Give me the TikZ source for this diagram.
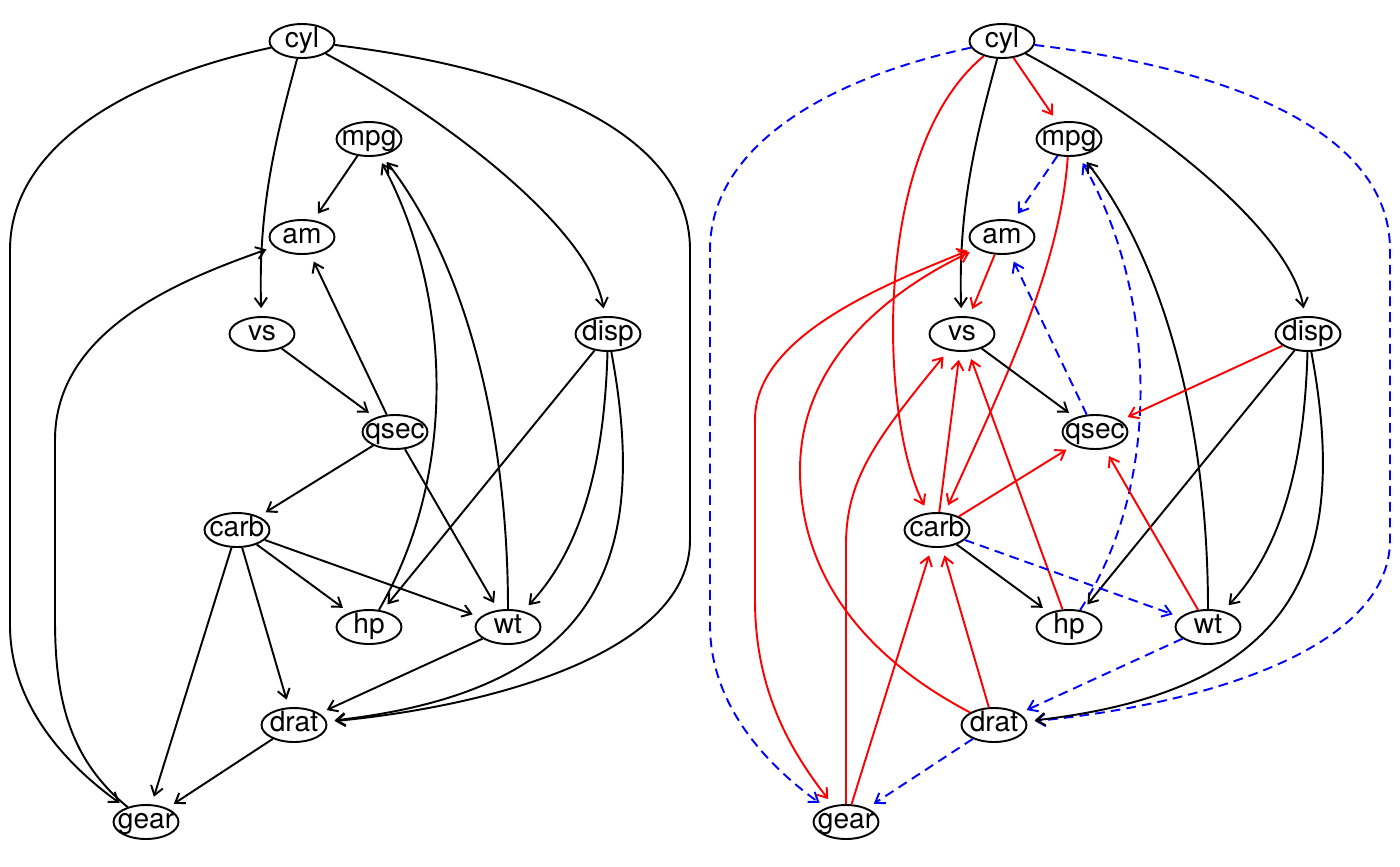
\documentclass[tikz,border=0pt]{standalone}
\usepackage{fontspec}
\setmainfont{TeX Gyre Heros}
\usetikzlibrary{shapes.geometric, arrows.meta}
\definecolor{myred}{RGB}{255,0,0}
\definecolor{myblue}{RGB}{0,0,255}
\tikzset{
  >={Straight Barb[length=5pt,width=7pt]},
  var/.style={ellipse, draw=black, minimum width=1.3cm, minimum height=0.68cm,
    inner xsep=-1.2em, inner ysep=0pt, text height=0.75em, text depth=0.05em,
    font=\fontsize{16}{16}\selectfont, line width=1.1pt},
  arrow/.style={->, line width=1.1pt, shorten >=4.5pt, color=black},
  redarrow/.style={arrow, color=myred},
  bluearrow/.style={arrow, color=myblue, dash pattern=on 5.5pt off 3.5pt},
  bothways/.style={<->, shorten <=4.5pt}
}
\begin{document}
\begin{tikzpicture}[x=0.02cm, y=-0.02cm]
  \useasboundingbox (0,0) rectangle (1400,866);

  % variables, left and right graph
  \foreach \g/\dx in {l/0, r/700} {
    \node[var] (\g cyl)  at (302+\dx,41)  {cyl};
    \node[var] (\g mpg)  at (369+\dx,139) {mpg};
    \node[var] (\g am)   at (302+\dx,237) {am};
    \node[var] (\g vs)   at (262+\dx,334) {vs};
    \node[var] (\g disp) at (608+\dx,334) {disp};
    \node[var] (\g qsec) at (395+\dx,432) {qsec};
    \node[var] (\g carb) at (237+\dx,530) {carb};
    \node[var] (\g hp)   at (369+\dx,627) {hp};
    \node[var] (\g wt)   at (508+\dx,627) {wt};
    \node[var] (\g drat) at (294+\dx,725) {drat};
    \node[var] (\g gear) at (146+\dx,822) {gear};
  }

  % left graph
  \draw[arrow] (lcyl) .. controls (120,80) and (10,150) .. (10,250) -- (10,625) .. controls (10,700) and (60,760) .. (lgear);
  \draw[arrow] (lcyl) .. controls (275,140) and (258,210) .. (lvs);
  \draw[arrow] (lcyl) .. controls (450,120) and (590,230) .. (ldisp);
  \draw[arrow] (lcyl) .. controls (500,65) and (690,120) .. (690,250) -- (690,540) .. controls (690,650) and (500,705) .. (ldrat);
  \draw[arrow] (lmpg) -- (lam);
  \draw[arrow] (lgear) .. controls (70,760) and (55,700) .. (55,620) -- (55,440) .. controls (55,330) and (180,280) .. (lam);
  \draw[arrow] (lhp) .. controls (460,470) and (450,290) .. (lmpg);
  \draw[arrow] (lwt) .. controls (508,440) and (470,270) .. (lmpg);
  \draw[arrow] (lqsec) -- (lam);
  \draw[arrow] (lvs) -- (lqsec);
  \draw[arrow] (lqsec) -- (lcarb);
  \draw[arrow] (lqsec) -- (lwt);
  \draw[arrow] (ldisp) -- (lhp);
  \draw[arrow] (ldisp) .. controls (605,440) and (590,540) .. (lwt);
  \draw[arrow] (ldisp) .. controls (650,560) and (600,690) .. (ldrat);
  \draw[arrow] (lcarb) -- (lhp);
  \draw[arrow] (lcarb) -- (lwt);
  \draw[arrow] (lcarb) -- (lgear);
  \draw[arrow] (lcarb) -- (ldrat);
  \draw[arrow] (lwt) -- (ldrat);
  \draw[arrow] (ldrat) -- (lgear);

  % right graph
  \draw[bluearrow] (rcyl) .. controls (820,80) and (710,150) .. (710,250) -- (710,625) .. controls (710,700) and (760,760) .. (rgear);
  \draw[bluearrow] (rcyl) .. controls (1200,65) and (1390,120) .. (1390,250) -- (1390,540) .. controls (1390,650) and (1200,705) .. (rdrat);
  \draw[redarrow] (rcyl) -- (rmpg);
  \draw[redarrow] (rcyl) .. controls (870,150) and (880,420) .. (rcarb);
  \draw[arrow] (rcyl) .. controls (975,140) and (958,210) .. (rvs);
  \draw[arrow] (rcyl) .. controls (1150,120) and (1290,230) .. (rdisp);
  \draw[bluearrow] (rmpg) -- (ram);
  \draw[redarrow] (rmpg) .. controls (1060,270) and (1000,390) .. (rcarb);
  \draw[bluearrow] (rhp) .. controls (1165,480) and (1155,290) .. (rmpg);
  \draw[arrow] (rwt) .. controls (1208,440) and (1170,270) .. (rmpg);
  \draw[redarrow] (ram) -- (rvs);
  \draw[bluearrow] (rqsec) -- (ram);
  \draw[arrow] (rvs) -- (rqsec);
  \draw[redarrow] (rdisp) -- (rqsec);
  \draw[arrow] (rdisp) -- (rhp);
  \draw[arrow] (rdisp) .. controls (1305,440) and (1290,540) .. (rwt);
  \draw[arrow] (rdisp) .. controls (1350,560) and (1300,690) .. (rdrat);
  \draw[redarrow] (rcarb) -- (rvs);
  \draw[redarrow] (rhp) -- (rvs);
  \draw[redarrow] (rgear) -- (846,545) .. controls (846,480) and (875,440) .. (rvs);
  \draw[redarrow] (rcarb) -- (rqsec);
  \draw[arrow] (rcarb) -- (rhp);
  \draw[bluearrow] (rcarb) -- (rwt);
  \draw[redarrow] (rwt) -- (rqsec);
  \draw[bluearrow] (rwt) -- (rdrat);
  \draw[bluearrow] (rdrat) -- (rgear);
  \draw[redarrow] (rdrat) -- (rcarb);
  \draw[redarrow] (rgear) -- (rcarb);
  \draw[redarrow] (rdrat) .. controls (870,660) and (800,580) .. (800,470) .. controls (800,360) and (890,290) .. (ram);
  \draw[redarrow, bothways] (ram) .. controls (870,290) and (755,340) .. (755,420) -- (755,600) .. controls (755,690) and (790,750) .. (rgear);
\end{tikzpicture}
\end{document}
